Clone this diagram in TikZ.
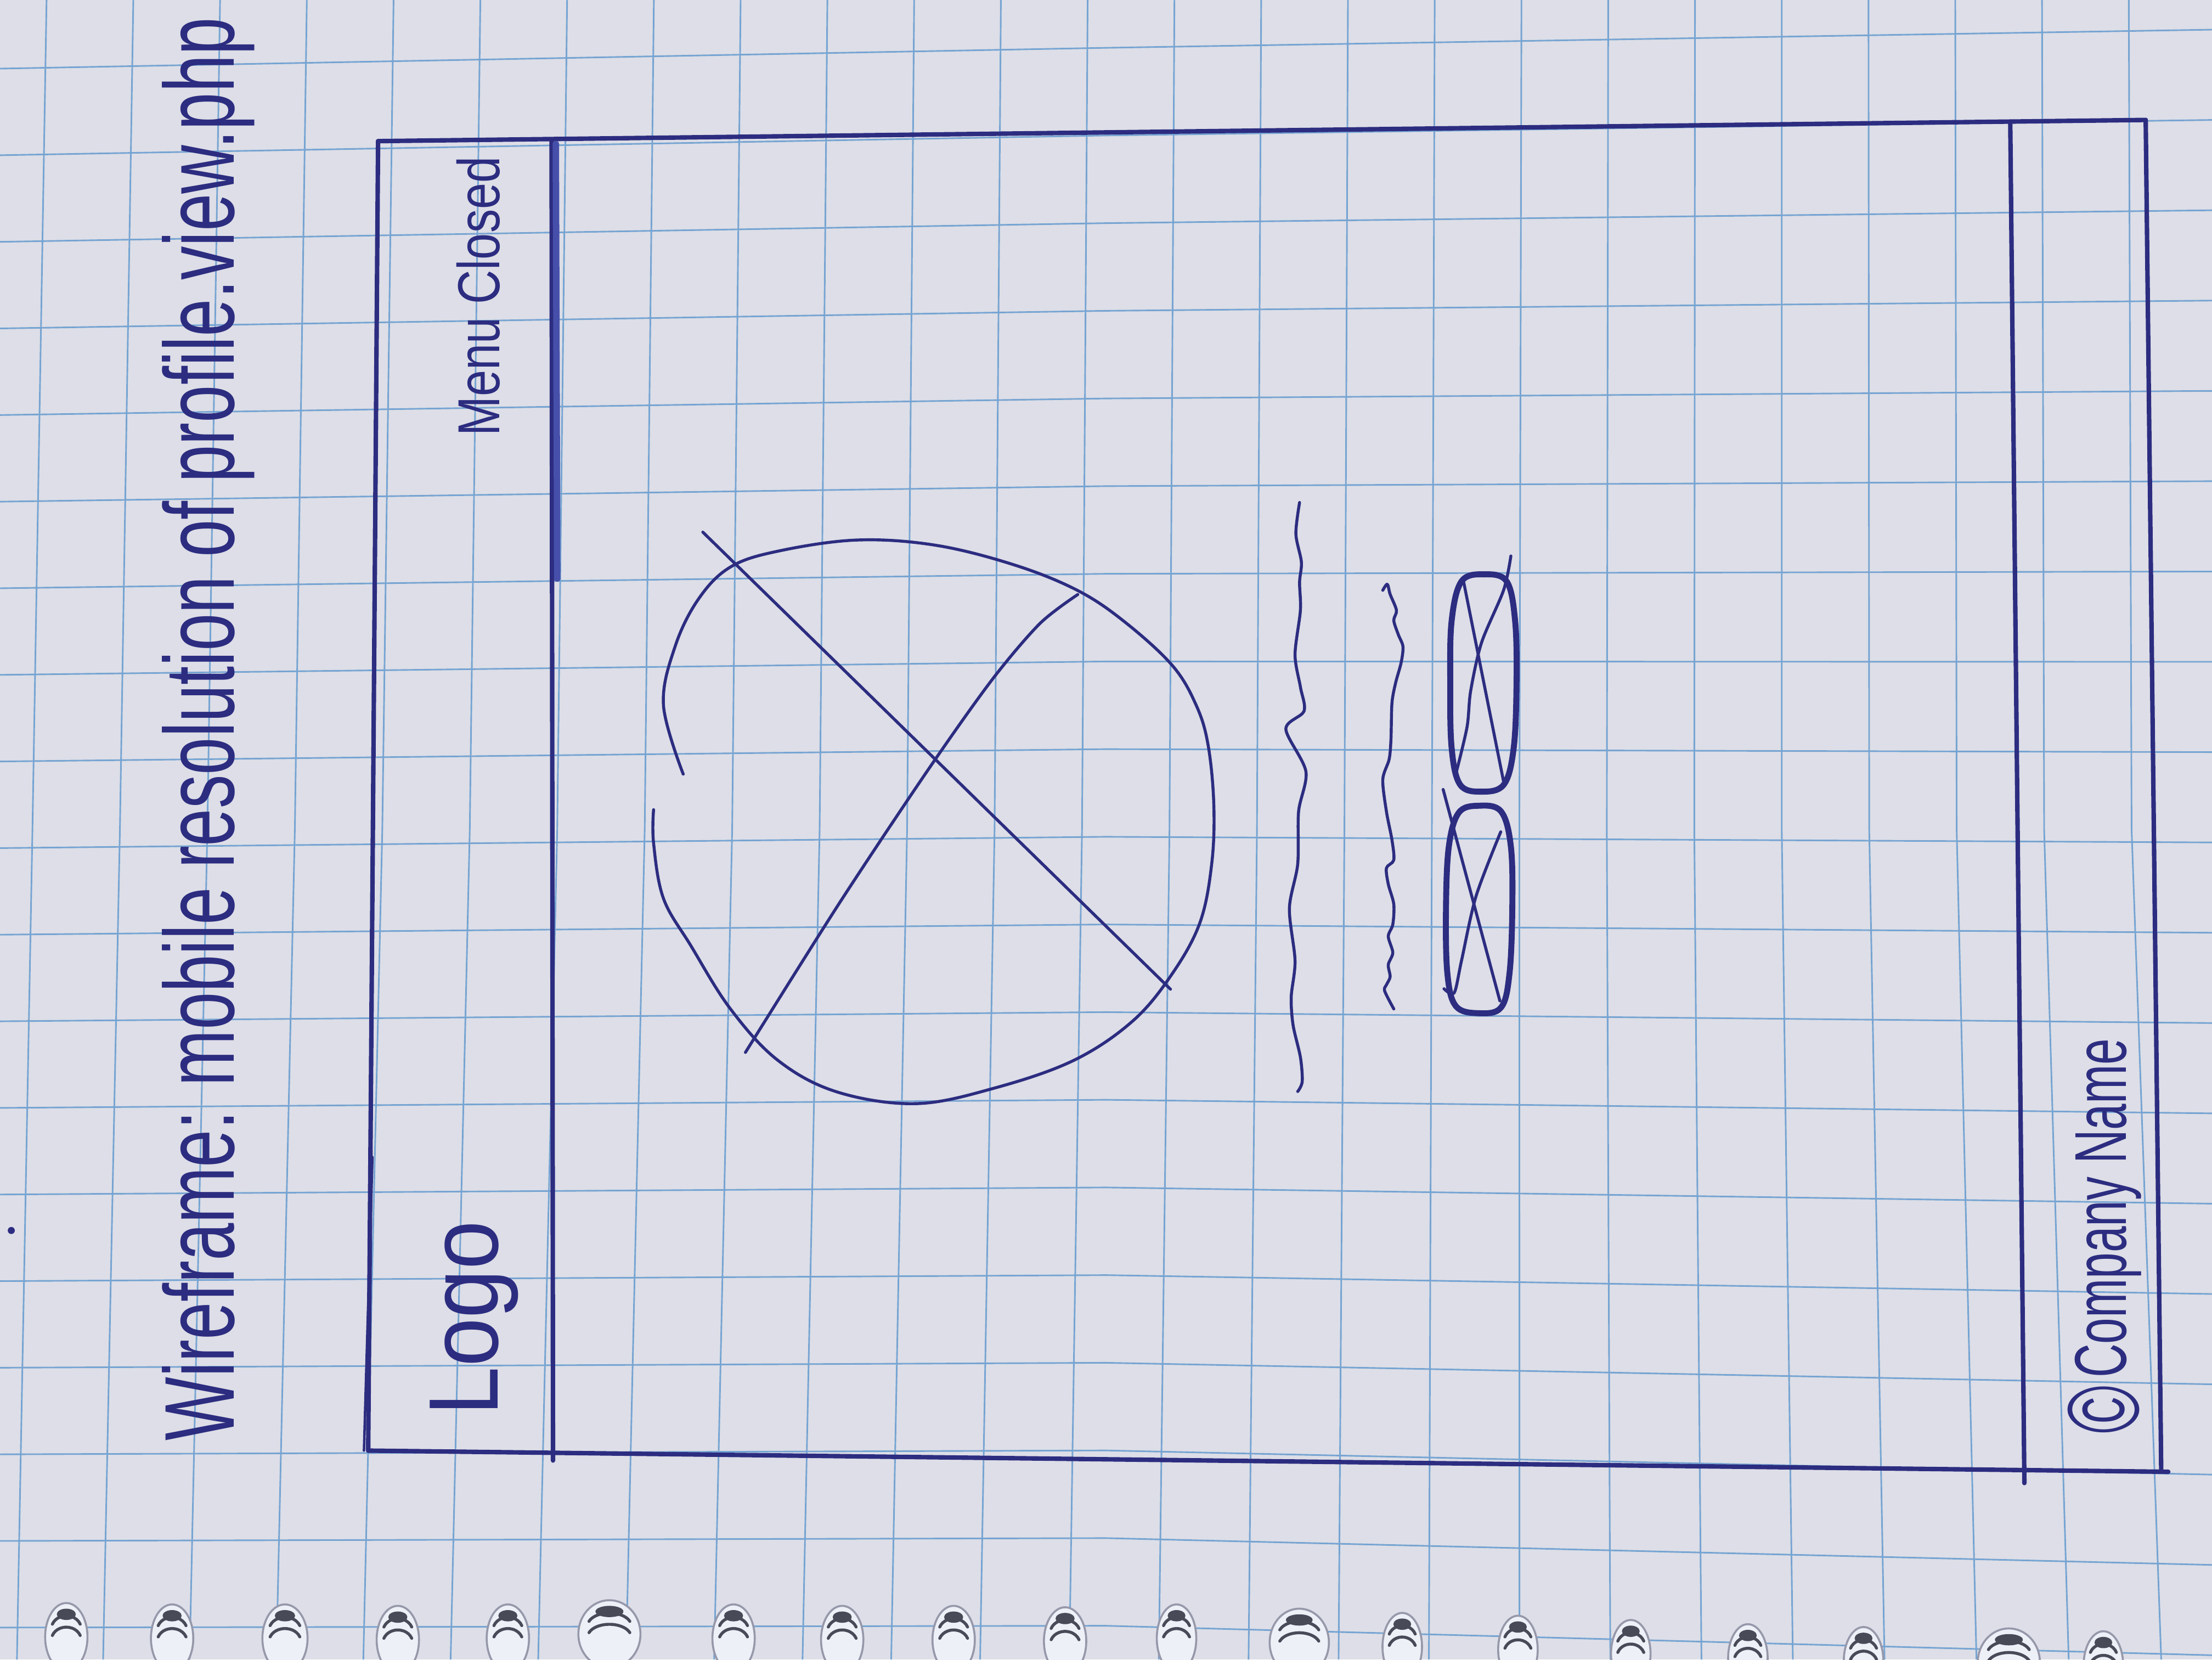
\documentclass[tikz,border=0pt]{standalone}
\usepackage{fontspec}
\usepackage{graphicx}
\newfontfamily\handfont{Liberation Sans}
\definecolor{paper}{RGB}{221,222,231}
\definecolor{gridblue}{RGB}{118,164,210}
\definecolor{ink}{RGB}{44,44,128}
\definecolor{inklight}{RGB}{70,80,170}
\definecolor{holefill}{RGB}{238,240,248}
\definecolor{holeedge}{RGB}{150,152,170}
\definecolor{ringdark}{RGB}{72,74,88}
\begin{document}
\begin{tikzpicture}[x=0.1mm, y=-0.1mm,
  gridline/.style={draw=gridblue, line width=0.32pt},
  pen/.style={draw=ink, line width=0.9pt, line cap=round, line join=round},
  sketch/.style={draw=ink, line width=0.6pt, line cap=round, line join=round},
  btn/.style={draw=ink, line width=1.2pt, line cap=round, line join=round},
  hand/.style={text=ink, inner sep=0pt, outer sep=0pt},
  ringline/.style={draw=ringdark, line width=0.6pt, line cap=round}]
\useasboundingbox (0,0) rectangle (1568,1176);
\clip (0,0) rectangle (1568,1176);
\fill[paper] (0,0) rectangle (1568,1176);

% grid paper
\foreach \j in {0,...,25}{
  \pgfmathsetmacro{\xt}{33+61.5*\j}
  \pgfmathsetmacro{\xm}{23+62*\j}
  \pgfmathsetmacro{\xb}{12+61*\j+0.0972*\j*\j}
  \draw[gridline] (\xt,0) -- (\xm,588) -- (\xb,1176);
}
\foreach \k in {0,...,18}{
  \pgfmathsetmacro{\yl}{110+61.375*(\k-1)}
  \pgfmathsetmacro{\ym}{96+62.125*(\k-1)}
  \pgfmathsetmacro{\yr}{85+64*(\k-1)}
  \draw[gridline] (0,\yl) -- (784,\ym) -- (1568,\yr);
}

% spiral binding holes
\foreach \cx/\ty/\w in {47/1138/15, 122/1139/15, 202/1139/16, 282/1140/15, 360/1139/15, 432/1136/22, 520/1139/15, 597/1140/15, 676/1140/15, 755/1141/15, 834/1139/14, 921/1142/21, 994/1145/14, 1076/1147/14, 1156/1150/14, 1239/1153/14, 1321/1155/14, 1424/1156/22, 1491/1158/14}{
  \fill[holefill] (\cx,\ty+22) ellipse [x radius=\w, y radius=24];
  \draw[holeedge, line width=0.4pt] (\cx,\ty+22) ellipse [x radius=\w, y radius=24];
  \fill[ringdark] (\cx,\ty+6) ellipse [x radius=0.45*\w, y radius=4];
  \foreach \d in {4,12}{
    \draw[ringline] (\cx-0.658*\w,\ty+9+\d) arc[start angle=200, end angle=340, x radius=0.7*\w, y radius=9];
  }
}

% title
\node[hand, rotate=90, anchor=base west] (title) at (166,1021)
  {\handfont\fontsize{20}{24}\selectfont\scalebox{0.68}[1]{Wireframe: mobile resolution of profile.view.php}};
\fill[ink] (8,872) circle [radius=2.5];

% outer frame
\coordinate (TL) at (268,100);
\coordinate (TR) at (1521,85);
\coordinate (BR) at (1532,1043);
\coordinate (BRx) at (1537,1043);
\coordinate (BL) at (261,1028);
\draw[pen] (TL) -- (TR);
\draw[pen] (TR) -- (BR);
\draw[pen] (BL) -- (BRx);
\draw[pen] (TL) -- (BL);
\draw[sketch, line width=0.5pt] (264,820) -- (258,1028);

% header bar
\coordinate (H1) at (391,100);
\coordinate (H2) at (392,1035);
\coordinate (H3) at (394,102);
\coordinate (H4) at (395,410);
\draw[pen] (H1) -- (H2);
\draw[draw=inklight, line width=1.3pt, line cap=round] (H3) -- (H4);
\node[hand, rotate=90, anchor=base west] (logo) at (353,1003)
  {\handfont\fontsize{19.9}{22}\selectfont\scalebox{0.885}[1]{Logo}};
\node[hand, rotate=90, anchor=base west] (menu) at (354,309)
  {\handfont\fontsize{11.95}{14}\selectfont\scalebox{0.8}[1]{Menu Closed}};

% footer bar
\coordinate (F1) at (1425,88);
\coordinate (F2) at (1435,1051);
\draw[pen] (F1) -- (F2);
\node[hand, rotate=90, anchor=base west] (footer) at (1507,1016)
  {\handfont\fontsize{14.8}{17}\selectfont\scalebox{0.64}[1]{\raisebox{-0.9mm}{\fontsize{20.5}{22}\selectfont ©}\,Company Name}};

% profile image placeholder
\draw[sketch] plot[smooth, tension=0.6] coordinates {
  (484.3,548.6) (470.3,499.7) (478.7,457.7) (495.4,424.1) (517.8,401.8)
  (551.4,390.6) (607.3,382.7) (663.3,386.4) (719.2,400.4) (764,418.5)
  (797.5,440.9) (831.1,471.7) (847.9,499.7) (856.3,527.6) (860.4,569.6)
  (859,611.5) (850.7,653.5) (831.1,689.8) (803.1,723.4) (761.2,751.4)
  (705.2,771) (649.3,782.1) (593.3,773.8) (551.4,751.4) (517.8,715.0)
  (489.8,670.3) (470.3,636.7) (463.3,597.5) (463.3,573.8)};
\coordinate (X1a) at (498.2,377.1);
\coordinate (X1b) at (829.7,701.0);
\draw[sketch] (X1a) -- (X1b);
\draw[sketch] plot[smooth, tension=0.5] coordinates {
  (764,421.3) (737,442) (703,482) (657.7,545.8) (595,640) (528.4,745.8)};

% text lines
\draw[sketch] plot[smooth, tension=0.5] coordinates {
  (921.2,356.1) (918.6,378.3) (922.5,398.3) (921.2,412.6) (921.8,432.5)
  (918.0,463.9) (921.8,486.8) (924.4,503.9) (911.5,516.7) (925.7,546.7)
  (920.5,575.2) (919.9,612.3) (914.0,643.7) (918.0,680.8) (915.3,706.4)
  (916.6,726.4) (921.8,749.2) (923.1,766.4) (919.9,773.5)};
\draw[sketch] plot[smooth, tension=0.5] coordinates {
  (980.2,418.3) (983.4,414.0) (985.4,421.1) (989.9,432.5) (988.0,439.7)
  (991.2,449.7) (994.5,458.2) (993.2,469.6) (989.3,483.9) (986.7,498.2)
  (986.0,523.8) (984.7,538.1) (980.2,552.4) (982.8,575.2) (986.7,595.2)
  (988.0,609.4) (982.8,615.1) (984.1,626.6) (988.0,640.8) (987.3,655.1)
  (984.1,663.6) (987.3,675.1) (984.1,683.6) (985.4,692.2) (982.8,697.9)
  (981.5,702.2) (988.0,715.0)};

% buttons
\draw[btn] plot[smooth cycle, tension=0.6] coordinates {
  (1052,407) (1068,412) (1074,440) (1075,484) (1073,530) (1066,556)
  (1050,561) (1035,556) (1029,530) (1028,484) (1029,440) (1036,412)};
\coordinate (B1a) at (1037.3,411.2);
\coordinate (B1b) at (1066.4,556.7);
\draw[sketch] (B1a) -- (B1b);
\draw[sketch] plot[smooth, tension=0.5] coordinates {
  (1071,394) (1065.8,418.3) (1050.2,455.4) (1042.5,489.6) (1039.9,515.3) (1032.1,548.1)};
\draw[btn] plot[smooth cycle, tension=0.6] coordinates {
  (1048,571) (1064,575) (1071,600) (1072,644) (1070,690) (1064,714)
  (1048,718) (1032,713) (1026,690) (1025,644) (1027,600) (1034,576)};
\coordinate (B2a) at (1023,559.5);
\coordinate (B2b) at (1063.2,709.3);
\draw[sketch] (B2a) -- (B2b);
\draw[sketch] plot[smooth, tension=0.5] coordinates {
  (1063.8,589.5) (1046.3,635.1) (1036,680.8) (1030.8,703.6) (1023.6,700.7)};
\end{tikzpicture}
\end{document}
